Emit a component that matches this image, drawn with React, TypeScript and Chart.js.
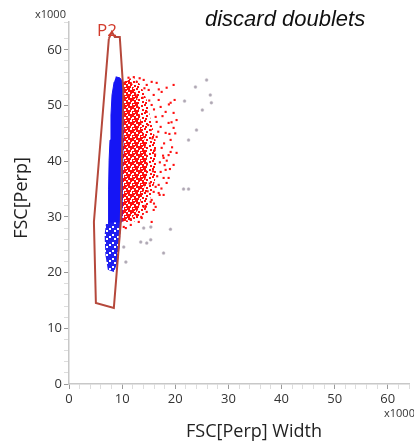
import React, { useEffect, useRef } from "react";
import { Chart, registerables } from "chart.js";

Chart.register(...registerables);

// ---- data (x1000 units) ----
const gateX = [7.5, 8.06, 8.63, 9.56, 10.22, 9.75, 8.44, 5.06, 4.69, 7.5];
const gateY = [62.0, 63.2, 62.3, 62.3, 52.8, 29.1, 13.65, 14.55, 29.1, 62.0];

const blueCoreX = [8.81, 9.56, 10.13, 10.22, 10.13, 9.94, 7.4, 7.45, 7.55, 7.72, 7.9, 8.1, 8.5];
const blueCoreY = [55.15, 54.97, 54.25, 49.2, 40.2, 29.1, 29.1, 34.85, 40.2, 43.8, 48.3, 51.9, 54.25];

const blueTailX = [7.0, 9.75, 9.56, 9.19, 8.44, 7.31, 6.85, 6.7];
const blueTailY = [29.1, 29.1, 25.0, 21.9, 20.1, 20.5, 23.2, 26.8];

const redHaloX = [10.22, 12.19, 13.5, 14.63, 15.38, 16.3, 16.6, 16.2, 15.2, 14.06, 12.19, 9.75];
const redHaloY = [54.6, 54.97, 53.7, 51.0, 47.4, 43.8, 40.2, 36.6, 33.05, 30.4, 29.1, 29.1];

const redCoreX = [10.22, 11.63, 12.75, 13.5, 14.4, 14.8, 14.1, 13.0, 11.63, 9.75];
const redCoreY = [54.25, 54.6, 51.9, 47.4, 42.9, 39.3, 34.85, 31.3, 29.5, 29.1];

const redDotX = [
  12.75, 14.63, 15.56, 16.5, 19.69, 17.44, 15.94, 19.13, 17.25, 18.19, 19.69, 16.31, 18.75, 17.25,
  19.69, 18.19, 16.5, 19.13, 19.13, 17.81, 19.69, 17.25, 18.75, 16.88, 15.94, 17.81, 15.38, 16.31,
  14.63, 12.75, 11.63, 18.75, 20.25, 18.19, 17.81, 18.38, 16.31, 16.88, 15.56, 15.94, 15.56, 10.69,
  11.63, 13.13, 10.31, 14.06, 15.0, 13.88, 15.56, 14.63, 16.5, 15.38, 17.44, 16.13, 18.0, 17.06,
  14.06, 13.69, 20.25, 19.88, 18.38, 16.88,
  14.2, 15.1, 16.0, 14.9, 16.8, 15.7, 17.9, 16.2, 17.1, 15.8, 16.6, 15.2, 17.4, 14.8, 16.0, 14.4,
  13.6, 18.9, 19.4, 18.4, 19.0, 17.6, 18.8, 16.9, 13.3, 12.2, 11.2, 19.3, 20.0, 17.7,
];
const redDotY = [
  54.25, 53.7, 54.25, 54.07, 53.7, 52.45, 51.9, 50.5, 49.75, 48.86, 48.68, 47.96, 46.88, 46.17,
  45.99, 45.09, 44.37, 43.83, 41.67, 40.6, 39.34, 38.08, 37.0, 35.75, 34.5, 33.95, 32.7, 31.8,
  30.9, 30.36, 29.46, 41.1, 41.5, 38.45, 37.0, 36.1, 35.4, 34.3, 33.05, 31.25, 29.1, 28.0,
  28.56, 29.1, 28.2, 54.6, 52.8, 51.4, 50.1, 48.86, 47.06, 45.6, 42.4, 42.0, 39.3, 33.95,
  31.8, 29.8, 47.4, 51.0, 53.2, 51.0,
  53.1, 50.9, 49.3, 46.5, 45.3, 44.1, 43.2, 41.2, 39.8, 38.2, 37.3, 36.0, 35.1, 34.6, 32.4, 32.0,
  30.0, 44.9, 42.5, 40.1, 38.6, 48.1, 50.2, 52.9, 54.9, 55.1, 55.0, 47.0, 45.0, 41.0,
];

const grayX = [23.8, 25.9, 26.6, 26.8, 21.75, 25.1, 24.0, 22.5, 21.56, 22.5, 19.1, 15.4, 14.06, 13.5, 14.63, 15.38, 17.8, 10.7, 10.3];
const grayY = [53.35, 54.6, 51.9, 50.5, 50.8, 49.2, 45.6, 43.8, 35.0, 35.0, 27.8, 28.2, 28.0, 25.5, 25.3, 25.9, 23.5, 21.9, 24.6];

const yTickLabels = [0, 10, 20, 30, 40, 50, 60];
const xTickLabels = [0, 10, 20, 30, 40, 50, 60];

const pts = (xs: number[], ys: number[]) => xs.map((x, i) => ({ x, y: ys[i] }));

function makePattern(color: string, size: number, cells: number[][], invert: boolean) {
  const c = document.createElement("canvas");
  c.width = size;
  c.height = size;
  const g = c.getContext("2d")!;
  g.fillStyle = color;
  if (invert) {
    g.fillRect(0, 0, size, size);
    cells.forEach(([x, y]) => g.clearRect(x, y, 2, 2));
  } else {
    cells.forEach(([x, y]) => g.fillRect(x, y, 2, 2));
  }
  return g.createPattern(c, "repeat")!;
}

const textPlugin = {
  id: "texts",
  afterDraw(chart: any) {
    const ctx = chart.ctx as CanvasRenderingContext2D;
    ctx.save();
    ctx.fillStyle = "#111";
    ctx.font = 'italic 22px "Liberation Sans", Arial, sans-serif';
    ctx.textAlign = "left";
    ctx.textBaseline = "alphabetic";
    ctx.fillText("discard doublets", 205, 26);

    ctx.fillStyle = "#333";
    ctx.font = '11px "Open Sans", sans-serif';
    ctx.textBaseline = "middle";
    ctx.fillText("x1000", 35, 15);
    ctx.fillText("x1000", 384, 414);

    ctx.fillStyle = "#222";
    ctx.font = '18px "Open Sans", sans-serif';
    ctx.textAlign = "center";
    ctx.fillText("FSC[Perp] Width", 254, 432);

    ctx.save();
    ctx.translate(22, 198);
    ctx.rotate(-Math.PI / 2);
    ctx.fillText("FSC[Perp]", 0, 0);
    ctx.restore();

    ctx.fillStyle = "#d23b2c";
    ctx.font = '17px "Open Sans", sans-serif';
    ctx.textAlign = "left";
    ctx.fillText("P2", 97, 31);
    ctx.restore();
  },
};

export default function App() {
  const ref = useRef<HTMLCanvasElement>(null);
  useEffect(() => {
    if (!ref.current) return;
    const redLight = makePattern("#ff1010", 8, [[0, 0], [5, 1], [2, 3], [6, 5], [1, 6]], false);
    const redDense = makePattern("#ff1010", 8, [[2, 0], [6, 2], [0, 4], [4, 5], [2, 6], [5, 0]], true);
    const blueSpeck = makePattern("#2020f0", 8, [[0, 2], [5, 4], [2, 6]], true);

    const majorColor = (ctx: any) => (ctx.tick && ctx.tick.value % 10 === 0 ? "#9a9a9a" : "#dddddd");

    const chart = new Chart(ref.current, {
      type: "scatter",
      data: {
        datasets: [
          {
            data: pts(gateX, gateY),
            showLine: true,
            borderColor: "#b5483b",
            borderWidth: 2,
            pointRadius: 0,
            fill: false,
          },
          {
            data: pts(blueCoreX, blueCoreY),
            showLine: true,
            borderColor: "#1515f5",
            borderWidth: 1,
            backgroundColor: "#1515f5",
            pointRadius: 0,
            fill: "shape",
          },
          {
            data: pts(blueTailX, blueTailY),
            showLine: true,
            borderColor: "transparent",
            borderWidth: 1,
            backgroundColor: blueSpeck,
            pointRadius: 0,
            fill: "shape",
          },
          {
            data: pts(redDotX, redDotY),
            backgroundColor: "#ff1010",
            borderWidth: 0,
            pointStyle: "rect",
            pointRadius: 1.5,
          },
          {
            data: pts(redCoreX, redCoreY),
            showLine: true,
            borderColor: "transparent",
            borderWidth: 1,
            backgroundColor: redDense,
            pointRadius: 0,
            fill: "shape",
          },
          {
            data: pts(redHaloX, redHaloY),
            showLine: true,
            borderColor: "transparent",
            borderWidth: 1,
            backgroundColor: redLight,
            pointRadius: 0,
            fill: "shape",
          },
          {
            data: pts(grayX, grayY),
            backgroundColor: "rgba(120,110,130,0.6)",
            borderColor: "rgba(200,190,200,0.4)",
            borderWidth: 1,
            pointRadius: 1.5,
          },
        ],
      },
      options: {
        animation: false,
        responsive: true,
        maintainAspectRatio: false,
        events: [],
        layout: { padding: { top: 22, right: 3, left: 0, bottom: 0 } },
        plugins: { legend: { display: false }, tooltip: { enabled: false }, title: { display: false } },
        scales: {
          x: {
            type: "linear",
            min: 0,
            max: 64,
            afterFit: (s: any) => {
              s.height = 62;
            },
            border: { color: "#c8c8c8", width: 1.5 },
            grid: { drawOnChartArea: false, drawTicks: true, tickLength: 5, color: majorColor },
            ticks: {
              stepSize: 2,
              autoSkip: false,
              maxRotation: 0,
              padding: 2,
              color: "#333",
              font: { family: '"Open Sans", sans-serif', size: 13 },
              callback: (v: any) => (xTickLabels.includes(Number(v)) ? String(v) : ""),
            },
          },
          y: {
            type: "linear",
            min: 0,
            max: 65,
            afterFit: (s: any) => {
              s.width = 69;
            },
            border: { color: "#c8c8c8", width: 1.5 },
            grid: { drawOnChartArea: false, drawTicks: true, tickLength: 5, color: majorColor },
            ticks: {
              stepSize: 2,
              autoSkip: false,
              padding: 2,
              color: "#333",
              font: { family: '"Open Sans", sans-serif', size: 13 },
              callback: (v: any) => (yTickLabels.includes(Number(v)) ? String(v) : ""),
            },
          },
        },
      },
      plugins: [textPlugin],
    });
    return () => chart.destroy();
  }, []);

  return (
    <div style={{ position: "fixed", left: 0, top: 0, width: 414, height: 446, background: "#fff" }}>
      <canvas ref={ref} />
    </div>
  );
}
